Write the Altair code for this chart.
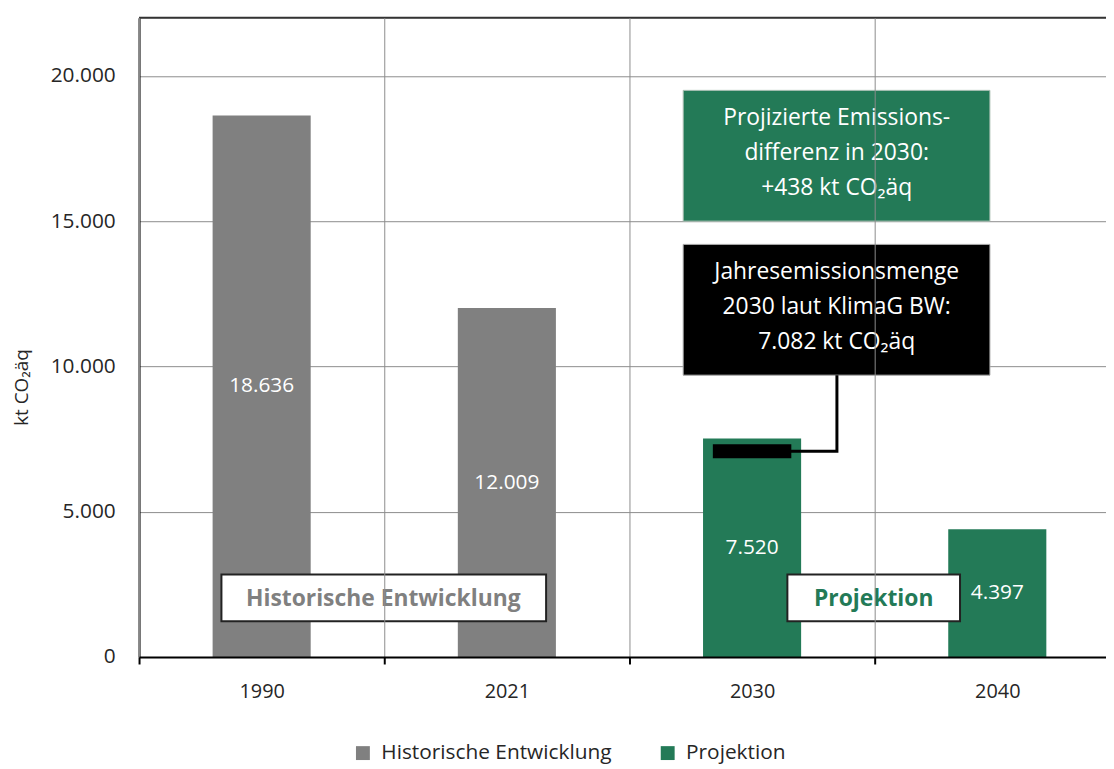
import altair as alt
import pandas as pd

# ---------------- data ----------------
years = ["1990", "2021", "2030", "2040"]
values = [18636, 12009, 7520, 4397]
series = ["Historische Entwicklung", "Historische Entwicklung", "Projektion", "Projektion"]

series_names = ["Historische Entwicklung", "Projektion"]
series_colors = ["#808080", "#237A57"]

y_ticks = [0, 5000, 10000, 15000, 20000]
y_max = 22000

target_2030 = 7082          # Jahresemissionsmenge 2030 laut KlimaG BW
diff_2030 = 438             # projizierte Differenz

green_lines = ["Projizierte Emissions-", "differenz in 2030:", "+438 kt CO\u2082äq"]
black_lines = ["Jahresemissionsmenge", "2030 laut KlimaG BW:", "7.082 kt CO\u2082äq"]

FONT = "Open Sans"

df = pd.DataFrame({"year": years, "value": values, "series": series})

# ---------------- scales / axes ----------------
xband = alt.Scale(domain=years, range=[0, 988], paddingInner=0, paddingOuter=0)
xq = alt.Scale(domain=[0, 4], range=[0, 988], nice=False, zero=False)
yscale = alt.Scale(domain=[0, y_max], nice=False)

german = "replace(format(datum.value, ','), ',', '.')"

yaxis = alt.Axis(
    values=y_ticks, labelExpr=german, title="kt CO\u2082äq",
    grid=True, gridColor="#8c8c8c", gridWidth=1,
    domain=True, domainColor="#000000", domainWidth=2,
    ticks=False, labelPadding=24, labelFontSize=21, labelColor="#262626",
    labelFont=FONT, titleFont=FONT, titleFontSize=19, titleFontWeight="normal",
    titleColor="#262626", titleX=-118, titleY=372, titleAngle=-90,
    titleBaseline="middle", titleAlign="center",
)
xaxis = alt.Axis(
    title=None, tickBand="extent", grid=True, gridColor="#8c8c8c", gridWidth=1,
    domain=True, domainColor="#000000", domainWidth=2,
    ticks=True, tickColor="#000000", tickWidth=2, tickSize=7,
    labelAngle=0, labelPadding=18, labelFontSize=20, labelColor="#262626",
    labelFont=FONT, zindex=1,
)


def XQ(f):
    return alt.X(f, type="quantitative", scale=xq, axis=None)


def YQ(f):
    return alt.Y(f, type="quantitative", scale=yscale, axis=yaxis)


# ---------------- bars ----------------
bars = alt.Chart(df).mark_bar(width=alt.RelativeBandSize(band=0.4)).encode(
    x=alt.X("year:N", scale=xband, axis=xaxis, sort=years),
    y=YQ("value"),
    color=alt.Color(
        "series:N",
        scale=alt.Scale(domain=series_names, range=series_colors),
        legend=alt.Legend(
            title=None, orient="none", direction="horizontal",
            legendX=215, legendY=730, symbolType="square", symbolSize=196,
            symbolStrokeWidth=0, labelFontSize=21, labelFont=FONT,
            labelColor="#262626", columnPadding=45, labelOffset=8, labelLimit=0,
        ),
    ),
)

bar_labels = alt.Chart(df).transform_calculate(
    mid="datum.value / 2", label=german
).mark_text(color="white", fontSize=21, font=FONT).encode(
    x=alt.X("year:N", scale=xband, axis=None, sort=years),
    y=YQ("mid"),
    text="label:N",
)

top_rule = alt.Chart(pd.DataFrame({"top": [y_max]})).mark_rule(
    color="#333333", strokeWidth=2
).encode(y=YQ("top"))

# ---------------- annotations ----------------
marker = alt.Chart(pd.DataFrame({"x": [2.340], "x2": [2.660], "y": [target_2030]})).mark_rule(
    color="#000000", strokeWidth=14, strokeCap="butt"
).encode(x=XQ("x"), x2="x2", y=YQ("y"))

connector = alt.Chart(pd.DataFrame({
    "x": [2.655, 2.846, 2.846], "y": [target_2030, target_2030, 9700], "o": [0, 1, 2]
})).mark_line(color="#000000", strokeWidth=3).encode(x=XQ("x"), y=YQ("y"), order="o:Q")

green_box = alt.Chart(pd.DataFrame({"x": [2.219], "x2": [3.470], "y": [15000], "y2": [19500]})).mark_rect(
    color="#237A57", stroke="#b0c4b8", strokeWidth=1
).encode(x=XQ("x"), x2="x2", y=YQ("y"), y2="y2")

black_box = alt.Chart(pd.DataFrame({"x": [2.219], "x2": [3.470], "y": [9700], "y2": [14200]})).mark_rect(
    color="#000000", stroke="#aaaaaa", strokeWidth=1
).encode(x=XQ("x"), x2="x2", y=YQ("y"), y2="y2")

green_text = alt.Chart(pd.DataFrame({"x": [2.845], "y": [18530], "t": [green_lines]})).mark_text(
    color="white", fontSize=23, font=FONT, lineHeight=35, baseline="middle", align="center"
).encode(x=XQ("x"), y=YQ("y"), text="t")

black_text = alt.Chart(pd.DataFrame({"x": [2.845], "y": [13231], "t": [black_lines]})).mark_text(
    color="white", fontSize=23, font=FONT, lineHeight=35, baseline="middle", align="center"
).encode(x=XQ("x"), y=YQ("y"), text="t")

label_boxes = alt.Chart(pd.DataFrame({
    "x": [0.336, 2.644], "x2": [1.660, 3.348], "y": [1231, 1231], "y2": [2838, 2838]
})).mark_rect(color="white", stroke="#222222", strokeWidth=2).encode(
    x=XQ("x"), x2="x2", y=YQ("y"), y2="y2"
)

hist_text = alt.Chart(pd.DataFrame({"x": [0.996], "y": [2000], "t": [series_names[0]]})).mark_text(
    color=series_colors[0], fontSize=23, fontWeight="bold", font=FONT, baseline="middle"
).encode(x=XQ("x"), y=YQ("y"), text="t")

proj_text = alt.Chart(pd.DataFrame({"x": [2.996], "y": [2000], "t": [series_names[1]]})).mark_text(
    color=series_colors[1], fontSize=23, fontWeight="bold", font=FONT, baseline="middle"
).encode(x=XQ("x"), y=YQ("y"), text="t")

chart = alt.layer(
    bars, bar_labels, top_rule,
    green_box, black_box, green_text, black_text,
    marker, connector, label_boxes, hist_text, proj_text,
).resolve_scale(x="independent").properties(
    width=974, height=644,
    autosize=alt.AutoSizeParams(type="none"),
    padding={"left": 132, "top": 7, "right": 0, "bottom": 110},
).configure_view(stroke=None).configure(background="white")

chart.save("out.html", embed_options={"renderer": "svg", "actions": False})
